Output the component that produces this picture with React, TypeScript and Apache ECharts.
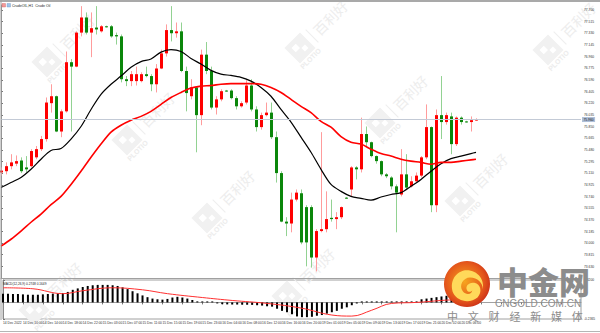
import React, { useEffect, useRef } from "react";
import * as echarts from "echarts";

const sessionDays = ["14 Dec", "15 Dec", "16 Dec", "19 Dec", "20 Dec"];
const sessionFirstHour = [6, 1, 1, 1, 1];
const sessionBars = [18, 23, 23, 23, 9];

// [open, close, low, high]
const ohlc: number[][] = [
  [75.12, 75.15, 75.07, 75.2], [75.14, 75.22, 75.09, 75.28], [75.22, 75.28, 75.17, 75.41], [75.26, 75.3, 75.22, 75.39],
  [75.31, 75.14, 75.11, 75.36], [75.2, 75.17, 75.12, 75.38], [75.22, 75.46, 75.2, 75.49], [75.36, 75.49, 75.33, 75.54],
  [75.49, 75.65, 75.46, 75.7], [75.65, 76.23, 75.61, 76.31], [76.22, 76.33, 76.07, 76.52], [76.33, 75.77, 75.76, 76.34],
  [75.77, 76.09, 75.68, 76.12], [76.09, 76.87, 76.07, 77.04], [76.87, 76.8, 75.77, 76.92], [76.8, 77.34, 76.79, 77.36],
  [77.34, 77.58, 77.28, 77.76], [77.58, 77.34, 77.31, 77.66], [77.34, 77.41, 76.95, 77.66], [77.42, 77.39, 77.31, 77.76],
  [77.36, 77.44, 77.34, 77.46], [77.44, 77.43, 77.42, 77.45], [77.44, 77.28, 77.26, 77.46], [77.3, 77.28, 77.15, 77.34],
  [77.28, 76.6, 76.55, 77.31], [76.6, 76.57, 76.49, 76.65], [76.57, 76.68, 76.49, 76.73], [76.57, 76.68, 76.5, 76.8],
  [76.57, 76.68, 76.55, 76.71], [76.68, 76.65, 76.63, 76.8], [76.65, 76.52, 76.41, 76.68], [76.52, 76.77, 76.39, 76.84],
  [76.77, 77.01, 76.76, 77.07], [77.01, 77.38, 76.96, 77.47], [77.38, 77.33, 77.2, 77.76], [77.33, 77.36, 77.26, 77.5],
  [77.36, 76.73, 76.71, 77.5], [76.73, 76.38, 76.09, 76.8], [76.33, 76.47, 76.28, 76.6], [76.47, 76.03, 75.44, 76.49],
  [76.03, 76.99, 75.87, 77.07], [76.99, 76.73, 76.68, 77.19], [76.73, 76.15, 76.12, 76.8], [76.15, 76.28, 76.04, 76.33],
  [76.28, 76.41, 76.25, 76.44], [76.42, 76.41, 76.4, 76.43], [76.42, 76.3, 76.28, 76.44], [76.3, 76.17, 76.12, 76.33],
  [76.17, 76.22, 76.15, 76.25], [76.23, 76.5, 76.2, 76.6], [76.5, 76.12, 76.09, 76.6], [76.12, 75.84, 75.77, 76.17],
  [75.84, 76.03, 75.8, 76.07], [76.03, 76.07, 76.01, 76.23], [76.07, 75.68, 75.65, 76.23], [75.68, 75.11, 74.96, 75.77],
  [75.11, 74.34, 74.33, 75.14], [74.34, 74.31, 74.11, 74.41], [74.31, 74.69, 74.17, 74.8], [74.69, 74.8, 74.66, 74.85],
  [74.79, 74.01, 73.98, 74.85], [74.57, 74.01, 73.63, 74.6], [74.57, 73.77, 73.61, 74.6], [73.77, 74.19, 73.55, 74.22],
  [74.19, 74.22, 74.17, 75.76], [74.22, 74.38, 74.17, 74.82], [74.4, 74.38, 74.34, 74.69], [74.38, 74.41, 74.22, 74.49],
  [74.41, 74.57, 74.38, 74.58], [74.72, 74.71, 74.7, 74.73], [74.85, 75.2, 74.74, 75.22], [75.2, 75.17, 75.01, 75.22],
  [75.17, 75.73, 75.12, 75.99], [75.73, 75.6, 75.53, 75.85], [75.6, 75.38, 75.36, 75.61], [75.38, 75.3, 75.26, 75.39],
  [75.3, 75.09, 75.06, 75.31], [75.09, 75.06, 75.03, 75.11], [75.04, 74.9, 74.85, 75.06], [74.9, 74.8, 74.17, 74.93],
  [74.77, 75.09, 74.74, 75.49], [75.09, 74.88, 74.85, 75.41], [74.9, 74.98, 74.88, 75.06], [74.98, 75.07, 74.96, 75.12],
  [75.07, 75.36, 75.04, 75.38], [75.36, 75.84, 75.33, 76.2], [75.84, 74.6, 74.49, 75.85], [74.6, 76.03, 74.49, 76.12],
  [76.03, 75.92, 75.65, 76.65], [75.92, 76.03, 75.88, 76.07], [76.01, 75.57, 75.41, 76.07], [75.57, 75.99, 75.54, 76.01],
  [75.99, 75.92, 75.88, 76.01], [75.93, 75.92, 75.91, 75.94], [75.92, 75.95, 75.77, 76.01], [75.95, 75.96, 75.94, 75.98],
];

const maIndex = [0, 2, 4, 6, 8, 10, 12, 14, 16, 18, 20, 22, 24, 26, 28, 30, 32, 34, 36, 38, 40, 42, 44, 46, 48, 50, 52, 54, 56, 58, 60, 62, 64, 66, 68, 70, 72, 74, 76, 78, 80, 82, 84, 86, 88, 90, 92, 94, 95];
const maFast = [74.88, 74.96, 75.04, 75.17, 75.33, 75.47, 75.5, 75.65, 75.85, 76.12, 76.36, 76.52, 76.65, 76.79, 76.88, 76.92, 77.03, 77.07, 77.04, 76.93, 76.84, 76.74, 76.68, 76.66, 76.63, 76.57, 76.47, 76.33, 76.12, 75.92, 75.68, 75.44, 75.17, 74.93, 74.82, 74.74, 74.71, 74.68, 74.73, 74.77, 74.8, 74.9, 75.01, 75.14, 75.26, 75.34, 75.38, 75.42, 75.44];
const maSlow = [73.95, 74.06, 74.19, 74.33, 74.46, 74.61, 74.74, 74.93, 75.14, 75.36, 75.57, 75.76, 75.87, 75.95, 76.01, 76.09, 76.2, 76.31, 76.39, 76.46, 76.49, 76.5, 76.52, 76.53, 76.53, 76.53, 76.52, 76.47, 76.39, 76.28, 76.17, 76.07, 75.93, 75.84, 75.69, 75.6, 75.57, 75.49, 75.42, 75.38, 75.33, 75.3, 75.28, 75.25, 75.28, 75.28, 75.3, 75.32, 75.33];

const macdHist = [
  0.125, 0.125, 0.12, 0.12, 0.115, 0.11, 0.11, 0.11, 0.115, 0.12, 0.125, 0.13, 0.135, 0.15, 0.18, 0.2, 0.22,
  0.235, 0.245, 0.25, 0.25, 0.25, 0.245, 0.235, 0.215, 0.19, 0.16, 0.13, 0.1, 0.075, 0.055, 0.045, 0.04,
  0.05, 0.07, 0.08, 0.07, 0.055, 0.035, 0.015, 0.006, 0.008, 0.005, -0.01, -0.025, -0.028, -0.03, -0.03, -0.032,
  -0.033, -0.035, -0.04, -0.045, -0.055, -0.06, -0.09, -0.12, -0.14, -0.17, -0.2, -0.21, -0.21, -0.205, -0.19,
  -0.18, -0.16, -0.14, -0.12, -0.09, -0.07, -0.04, -0.015, 0.004, 0.006, 0.005, 0.004, 0.003, 0.003, 0.004,
  0.004, 0.005, 0.006, 0.008, 0.01, 0.045, 0.055, 0.065, 0.075, 0.085, 0.095, 0.1, 0.11, 0.115, 0.12, 0.125, 0.13,
];
const signalIndex = [0, 6, 12, 16, 22, 28, 33, 40, 46, 53, 60, 66, 70, 74, 78, 83, 88, 95];
const signalValues = [0.209, 0.195, 0.125, 0.167, 0.209, 0.18, 0.125, 0.07, 0.028, -0.014, -0.083, -0.18, -0.195, -0.111, -0.014, 0, 0.028, 0.056];

const lastPrice = 75.96;
const symbolText = "CrudeOIL,H1  Crude Oil";
const macdText = "MACD(12,26,9) 0.2748 0.1649";
const logoChars = ["中", "文", "财", "经", "新", "媒", "体"];
const watermarkSpots = [
  [47, 62], [127, 140], [207, 218], [287, 296], [300, 48], [380, 123], [460, 201], [548, 50], [34, 310],
];

const priceMin = 73.445;
const priceMax = 77.778;
const priceStep = 0.185;
const macdMin = -0.2365;
const macdMax = 0.32;
const slotCount = 116;

const timeLabels: string[] = [];
sessionDays.forEach((d, k) => {
  for (let j = 0; j < sessionBars[k]; j++) {
    const h = sessionFirstHour[k] + j;
    timeLabels.push(`${d} ${String(h).padStart(2, "0")}:00`);
  }
});
timeLabels[0] = "14 Dec 2022";

let registered = false;
function registerShapes() {
  if (registered) return;
  registered = true;
  echarts.graphic.registerShape(
    "swirl",
    (echarts.graphic as any).extendPath(
      "M -2 -15 C -12 -13 -17 -3 -13 7 C -9 15 3 17 10 11 C 15 6 13 -2 7 -3 C 2 -4 -2 0 0 4 C 1 6 4 6 5 4 C 5 8 -1 9 -4 5 C -8 0 -4 -8 3 -8 C 10 -8 15 -3 15 3 C 17 -6 10 -16 -2 -15 Z",
      {}
    )
  );
}

const FONT = "Liberation Sans";
const CJK = "Noto Sans CJK SC";

export default function App() {
  const ref = useRef<HTMLDivElement>(null);
  useEffect(() => {
    if (!ref.current) return;
    registerShapes();
    const chart = echarts.init(ref.current, undefined, { renderer: "svg" });

    const watermarks = watermarkSpots.map(([x, y]) => ({
      type: "group",
      x,
      y,
      rotation: Math.PI / 4,
      z: -5,
      silent: true,
      children: [
        { type: "rect", shape: { x: -11, y: -11, width: 22, height: 22 }, style: { fill: "#f1f1f1" } },
        { type: "rect", shape: { x: -6, y: -6, width: 6, height: 6 }, style: { fill: "#ffffff" } },
        { type: "rect", shape: { x: 1, y: 1, width: 5, height: 5 }, style: { fill: "#ffffff" } },
        { type: "text", x: 0, y: 15, style: { text: "PLOTIO", fontSize: 7, fontWeight: "bold", fontFamily: FONT, fill: "#ececec", align: "center", verticalAlign: "middle" } },
        { type: "line", shape: { x1: 17, y1: -9, x2: 17, y2: 9 }, style: { stroke: "#eeeeee", lineWidth: 1 } },
        { type: "text", x: 22, y: 0, style: { text: "百利好", fontSize: 14, fontFamily: CJK, fill: "#ededed", align: "left", verticalAlign: "middle" } },
      ],
    }));

    const logo = [
      {
        type: "circle",
        z: 100,
        shape: { cx: 467, cy: 284, r: 23 },
        style: {
          fill: new echarts.graphic.RadialGradient(0.45, 0.45, 0.6, [
            { offset: 0, color: "#f6a51e" },
            { offset: 0.7, color: "#e4561b" },
            { offset: 1, color: "#c92c17" },
          ]),
        },
      },
      { type: "swirl", z: 101, x: 467, y: 286, scaleX: 1.05, scaleY: 1.05, style: { fill: "#ffd95a" } },
      { type: "text", z: 100, x: 497, y: 280, style: { text: "中金网", fontSize: 31, fontWeight: 900, fontFamily: CJK, fill: "#8c8c8c", align: "left", verticalAlign: "middle" } },
      { type: "text", z: 100, x: 495, y: 303, style: { text: "CNGOLD.COM.CN", fontSize: 10, fontFamily: FONT, fill: "#8c8c8c", align: "left", verticalAlign: "middle" } },
      ...logoChars.map((ch, k) => ({
        type: "text",
        z: 100,
        x: 447 + k * 20.8,
        y: 316,
        style: { text: ch, fontSize: 11, fontFamily: CJK, fill: "#8c8c8c", align: "left", verticalAlign: "middle" },
      })),
    ];

    const option: any = {
      animation: false,
      backgroundColor: "#ffffff",
      grid: [
        { left: 1, right: 19, top: 5, height: 273 },
        { left: 1, right: 19, top: 280, height: 39, show: true, borderColor: "#a0a0a0", borderWidth: 1 },
      ],
      xAxis: [
        {
          type: "value", gridIndex: 0, min: 0, max: slotCount, interval: 4,
          axisLine: { show: true, lineStyle: { color: "#a0a0a0" } },
          axisTick: { show: false }, axisLabel: { show: false }, splitLine: { show: false },
        },
        {
          type: "value", gridIndex: 1, min: 0, max: slotCount, interval: 4,
          axisLine: { show: true, lineStyle: { color: "#a0a0a0" } },
          axisTick: { show: true, length: 2, lineStyle: { color: "#777" } },
          axisLabel: {
            show: true, fontSize: 3.3, fontFamily: FONT, color: "#333", align: "left", margin: 2,
            showMaxLabel: false,
            formatter: (v: number) => (v < timeLabels.length ? timeLabels[v] : ""),
          },
          splitLine: { show: false },
        },
      ],
      yAxis: [
        {
          type: "value", gridIndex: 0, position: "right", min: priceMin, max: priceMax, interval: priceStep,
          axisLine: { show: true, lineStyle: { color: "#8a8a8a" } },
          axisTick: { show: true, length: 2, lineStyle: { color: "#777" } },
          axisLabel: {
            fontSize: 3.3, fontFamily: FONT, color: "#333", margin: 3,
            showMinLabel: false, showMaxLabel: false,
            formatter: (v: number) => v.toFixed(3),
          },
          splitLine: { show: false },
        },
        {
          type: "value", gridIndex: 1, position: "right", min: macdMin, max: macdMax, interval: macdMax - macdMin,
          axisLine: { show: true, lineStyle: { color: "#8a8a8a" } },
          axisTick: { show: true, length: 2, lineStyle: { color: "#777" } },
          axisLabel: { fontSize: 3.3, fontFamily: FONT, color: "#333", margin: 3, formatter: (v: number) => v.toFixed(4) },
          splitLine: { show: false },
        },
      ],
      series: [
        {
          type: "custom",
          name: "Crude",
          xAxisIndex: 0,
          yAxisIndex: 0,
          z: 3,
          dimensions: ["i", "open", "close", "low", "high"],
          encode: { x: 0, y: [1, 2, 3, 4] },
          data: ohlc.map((d, i) => [i, d[0], d[1], d[2], d[3]]),
          renderItem: (params: any, api: any) => {
            const i = api.value(0);
            const o = api.value(1);
            const c = api.value(2);
            const l = api.value(3);
            const h = api.value(4);
            const up = c >= o;
            const pO = api.coord([i, o]);
            const pC = api.coord([i, c]);
            const pL = api.coord([i, l]);
            const pH = api.coord([i, h]);
            const x = Math.round(pO[0]) + 0.5;
            const top = Math.min(pO[1], pC[1]);
            let bh = Math.abs(pO[1] - pC[1]);
            if (bh < 1) bh = 1;
            return {
              type: "group",
              children: [
                { type: "line", shape: { x1: x, y1: pH[1], x2: x, y2: pL[1] }, style: { stroke: up ? "#ff9c9c" : "#92d292", lineWidth: 1 } },
                { type: "rect", shape: { x: x - 1.5, y: top, width: 3, height: bh }, style: { fill: up ? "#ff0000" : "#0b870b" } },
              ],
            };
          },
        },
        {
          type: "line", name: "MA fast", xAxisIndex: 0, yAxisIndex: 0, z: 4,
          data: maIndex.map((ix, k) => [ix, maFast[k]]),
          smooth: 0.3, symbol: "none", lineStyle: { color: "#000000", width: 1.2 },
        },
        {
          type: "line", name: "MA slow", xAxisIndex: 0, yAxisIndex: 0, z: 4,
          data: maIndex.map((ix, k) => [ix, maSlow[k]]),
          smooth: 0.3, symbol: "none", lineStyle: { color: "#ff0000", width: 1.6 },
          markLine: {
            silent: true,
            symbol: ["none", "none"],
            lineStyle: { color: "#c3cad6", width: 1, type: "solid" },
            label: {
              position: "end", distance: 1, fontSize: 3.3, fontFamily: FONT, color: "#111",
              backgroundColor: "#aebfd8", padding: [1, 1.5],
              formatter: () => lastPrice.toFixed(3),
            },
            data: [{ yAxis: lastPrice }],
          },
        },
        {
          type: "bar", name: "MACD", xAxisIndex: 1, yAxisIndex: 1, z: 3,
          data: macdHist.map((v, i) => [i, v]),
          barWidth: 2, barMinHeight: 1, itemStyle: { color: "#000000" },
        },
        {
          type: "line", name: "Signal", xAxisIndex: 1, yAxisIndex: 1, z: 4,
          data: signalIndex.map((ix, k) => [ix, signalValues[k]]),
          smooth: 0.4, symbol: "none", lineStyle: { color: "#ff3030", width: 1 },
        },
      ],
      graphic: [
        ...watermarks,
        { type: "rect", z: 50, shape: { x: 0, y: 0, width: 600, height: 2 }, style: { fill: "#a9a9a9" } },
        { type: "line", z: 50, shape: { x1: 1, y1: 0, x2: 1, y2: 320 }, style: { stroke: "#a0a0a0", lineWidth: 1 } },
        { type: "line", z: 50, shape: { x1: 0, y1: 331.5, x2: 600, y2: 331.5 }, style: { stroke: "#b5b5b5", lineWidth: 1 } },
        { type: "rect", z: 50, shape: { x: 2, y: 3.5, width: 3.5, height: 3.5 }, style: { fill: "#f29a9a", stroke: "#d06060", lineWidth: 0.4 } },
        { type: "rect", z: 50, shape: { x: 7, y: 3.5, width: 3.5, height: 3.5 }, style: { fill: "#9cc3ea", stroke: "#6f95c0", lineWidth: 0.4 } },
        { type: "text", z: 50, x: 12, y: 5.5, style: { text: symbolText, fontSize: 3.6, fontFamily: FONT, fill: "#222", verticalAlign: "middle" } },
        { type: "text", z: 50, x: 3, y: 283.5, style: { text: macdText, fontSize: 3.2, fontFamily: FONT, fill: "#222", verticalAlign: "middle" } },
        ...logo,
      ],
    };
    chart.setOption(option);
    return () => chart.dispose();
  }, []);
  return <div ref={ref} style={{ width: 600, height: 333, position: "absolute", left: 0, top: 0 }} />;
}
